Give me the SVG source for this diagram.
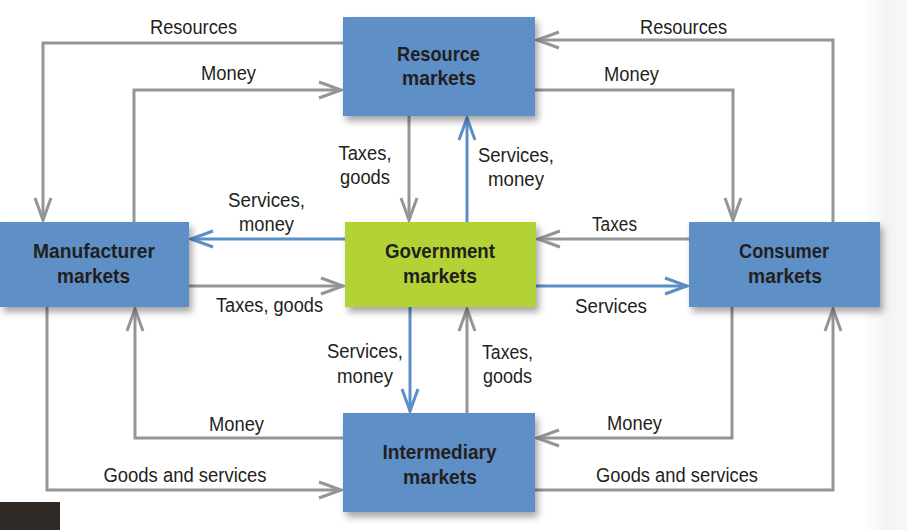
<svg xmlns="http://www.w3.org/2000/svg" width="907" height="530" viewBox="0 0 907 530">
  <style>
    .g { fill: none; stroke: #939598; stroke-width: 3; }
    .b { fill: none; stroke: #5b8ec9; stroke-width: 3; }
    .ga { marker-end: url(#ag); }
    .ba { marker-end: url(#ab); }
    .box { fill: #5f8fc7; filter: url(#sh); }
    .gov { fill: #b3d234; filter: url(#sh); }
    .lbl { font-family: "Liberation Sans", Arial, sans-serif; font-size: 20px; fill: #231f20; text-anchor: middle; }
    .nl { font-family: "Liberation Sans", Arial, sans-serif; font-size: 21px; font-weight: bold; fill: #231f20; text-anchor: middle; }
  </style>
  <defs>
    <marker id="ag" markerUnits="userSpaceOnUse" viewBox="-26 -12 30 24" refX="0" refY="0" markerWidth="30" markerHeight="24" orient="auto" overflow="visible">
      <path d="M-22,-8 L0,0 L-22,8" fill="none" stroke="#939598" stroke-width="3"/>
    </marker>
    <marker id="ab" markerUnits="userSpaceOnUse" viewBox="-26 -12 30 24" refX="0" refY="0" markerWidth="30" markerHeight="24" orient="auto" overflow="visible">
      <path d="M-22,-8 L0,0 L-22,8" fill="none" stroke="#5b8ec9" stroke-width="3"/>
    </marker>
    <filter id="sh" x="-10%" y="-10%" width="130%" height="140%">
      <feDropShadow dx="3" dy="5" stdDeviation="3.5" flood-color="#000" flood-opacity="0.35"/>
    </filter>
    <linearGradient id="edge" x1="0" y1="0" x2="1" y2="0">
      <stop offset="0" stop-color="#ffffff"/>
      <stop offset="0.6" stop-color="#f3f3f3"/>
      <stop offset="1" stop-color="#f8f8f8"/>
    </linearGradient>
  </defs>
  <rect x="0" y="0" width="907" height="530" fill="#ffffff"/>
  <rect x="862" y="0" width="45" height="530" fill="url(#edge)"/>
  <rect x="0" y="502" width="60" height="28" fill="#302a26"/>

  <g id="connectors">
    <path class="g ga" d="M343,43 H43 V220"/>
    <path class="g ga" d="M134,222 V90 H341"/>
    <path class="g ga" d="M833,222 V40 H537"/>
    <path class="g ga" d="M535,90 H733 V220"/>
    <path class="g ga" d="M409,116 V220"/>
    <path class="b ba" d="M467,222 V118"/>
    <path class="b ba" d="M345,239 H191"/>
    <path class="g ga" d="M189,286 H343"/>
    <path class="g ga" d="M689,239 H538"/>
    <path class="b ba" d="M536,286 H687"/>
    <path class="b ba" d="M410,307 V411"/>
    <path class="g ga" d="M467,413 V309"/>
    <path class="g ga" d="M343,438 H135 V309"/>
    <path class="g ga" d="M47,307 V490 H341"/>
    <path class="g ga" d="M732,307 V438 H537"/>
    <path class="g ga" d="M535,490 H833 V309"/>

    <text class="lbl" x="193.5" y="34" textLength="87" lengthAdjust="spacingAndGlyphs">Resources</text>
    <text class="lbl" x="228.5" y="80" textLength="55" lengthAdjust="spacingAndGlyphs">Money</text>
    <text class="lbl" x="683.5" y="34" textLength="87" lengthAdjust="spacingAndGlyphs">Resources</text>
    <text class="lbl" x="631.5" y="81" textLength="55" lengthAdjust="spacingAndGlyphs">Money</text>
    <text class="lbl" x="365" y="160" textLength="53" lengthAdjust="spacingAndGlyphs">Taxes,</text>
    <text class="lbl" x="365" y="184" textLength="50" lengthAdjust="spacingAndGlyphs">goods</text>
    <text class="lbl" x="516" y="162" textLength="76" lengthAdjust="spacingAndGlyphs">Services,</text>
    <text class="lbl" x="516" y="186" textLength="56" lengthAdjust="spacingAndGlyphs">money</text>
    <text class="lbl" x="266.5" y="207" textLength="77" lengthAdjust="spacingAndGlyphs">Services,</text>
    <text class="lbl" x="266.5" y="231" textLength="55" lengthAdjust="spacingAndGlyphs">money</text>
    <text class="lbl" x="614.5" y="231" textLength="45" lengthAdjust="spacingAndGlyphs">Taxes</text>
    <text class="lbl" x="269.5" y="312" textLength="107" lengthAdjust="spacingAndGlyphs">Taxes, goods</text>
    <text class="lbl" x="611" y="312.5" textLength="72" lengthAdjust="spacingAndGlyphs">Services</text>
    <text class="lbl" x="365" y="358" textLength="76" lengthAdjust="spacingAndGlyphs">Services,</text>
    <text class="lbl" x="365" y="382.5" textLength="56" lengthAdjust="spacingAndGlyphs">money</text>
    <text class="lbl" x="507.5" y="359" textLength="51" lengthAdjust="spacingAndGlyphs">Taxes,</text>
    <text class="lbl" x="507.5" y="383" textLength="49" lengthAdjust="spacingAndGlyphs">goods</text>
    <text class="lbl" x="236.5" y="430.5" textLength="55" lengthAdjust="spacingAndGlyphs">Money</text>
    <text class="lbl" x="185" y="482" textLength="163" lengthAdjust="spacingAndGlyphs">Goods and services</text>
    <text class="lbl" x="634.5" y="430" textLength="55" lengthAdjust="spacingAndGlyphs">Money</text>
    <text class="lbl" x="677" y="482" textLength="162" lengthAdjust="spacingAndGlyphs">Goods and services</text>
  </g>

  <g id="resource">
    <rect class="box" x="343" y="17" width="192" height="99"/>
    <text class="nl" x="438.5" y="61" textLength="83" lengthAdjust="spacingAndGlyphs">Resource</text>
    <text class="nl" x="439" y="85" textLength="74" lengthAdjust="spacingAndGlyphs">markets</text>
  </g>
  <g id="manufacturer">
    <rect class="box" x="0" y="222" width="189" height="85"/>
    <text class="nl" x="94" y="258" textLength="122" lengthAdjust="spacingAndGlyphs">Manufacturer</text>
    <text class="nl" x="93.5" y="283" textLength="73" lengthAdjust="spacingAndGlyphs">markets</text>
  </g>
  <g id="government">
    <rect class="gov" x="345" y="222" width="191" height="85"/>
    <text class="nl" x="440" y="258" textLength="110" lengthAdjust="spacingAndGlyphs">Government</text>
    <text class="nl" x="440" y="283" textLength="74" lengthAdjust="spacingAndGlyphs">markets</text>
  </g>
  <g id="consumer">
    <rect class="box" x="689" y="222" width="191" height="85"/>
    <text class="nl" x="784" y="258" textLength="90" lengthAdjust="spacingAndGlyphs">Consumer</text>
    <text class="nl" x="785" y="283" textLength="74" lengthAdjust="spacingAndGlyphs">markets</text>
  </g>
  <g id="intermediary">
    <rect class="box" x="343" y="413" width="192" height="99"/>
    <text class="nl" x="439.5" y="459" textLength="114" lengthAdjust="spacingAndGlyphs">Intermediary</text>
    <text class="nl" x="440" y="484" textLength="74" lengthAdjust="spacingAndGlyphs">markets</text>
  </g>
</svg>
